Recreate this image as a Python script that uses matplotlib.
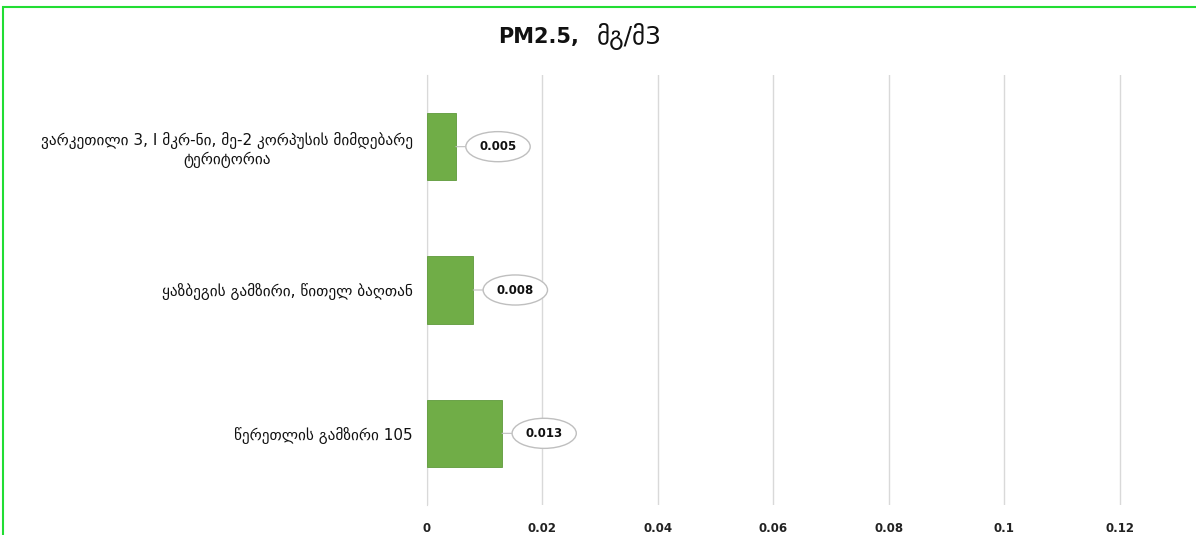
import matplotlib
matplotlib.use('Agg')
import matplotlib.pyplot as plt
from matplotlib.patches import Rectangle

plt.rcParams['font.family'] = ['DejaVu Sans']

# data
locations = ['ვარკეთილი 3, I მკრ-ნი, მე-2 კორპუსის მიმდებარე\nტერიტორია',
             'ყაზბეგის გამზირი, წითელ ბაღთან',
             'წერეთლის გამზირი 105']
pm25 = [0.005, 0.008, 0.013]
value_labels = ['0.005', '0.008', '0.013']
xticks = [0, 0.02, 0.04, 0.06, 0.08, 0.1, 0.12]
xtick_labels = ['0', '0.02', '0.04', '0.06', '0.08', '0.1', '0.12']

fig = plt.figure(figsize=(11.96, 5.35), dpi=100)
ax = fig.add_axes([427/1196, 1 - 505/535, 1 - 427/1196, 430/535])

ypos = list(range(len(locations)))
ax.barh(ypos, pm25, height=0.47, color='#70ad47', edgecolor='#5e9a3a', linewidth=0.6, zorder=3)
ax.set_ylim(len(locations) - 0.5, -0.5)
ax.set_xlim(0, 0.1332)

ax.set_xticks(xticks)
ax.set_xticklabels(xtick_labels, fontsize=8.5, fontweight='bold', color='#222222')
ax.tick_params(axis='x', length=0, pad=12)
ax.set_yticks(ypos)
ax.set_yticklabels(locations, fontsize=11, color='#111111')
ax.tick_params(axis='y', length=0, pad=10)
for lbl in ax.get_yticklabels():
    lbl.set_multialignment('center')

ax.grid(axis='x', color='#d9d9d9', linewidth=1, zorder=0)
for s in ['top', 'right', 'bottom']:
    ax.spines[s].set_visible(False)
ax.spines['left'].set_color('#d9d9d9')

# data labels in ellipses
for y, v, t in zip(ypos, pm25, value_labels):
    ax.annotate(t, xy=(v, y), xytext=(v + 0.0073, y), ha='center', va='center',
                fontsize=8.5, fontweight='bold', color='#111111',
                bbox=dict(boxstyle='ellipse,pad=0.35', fc='white', ec='#bfbfbf', lw=1),
                arrowprops=dict(arrowstyle='-', color='#bfbfbf', lw=0.8,
                                shrinkA=0, shrinkB=0),
                zorder=5)

# title
fig.text(579/1196, 1 - 37/535, 'PM2.5,', ha='right', va='center', fontsize=15, fontweight='bold', color='#111111')
fig.text(597/1196, 1 - 37/535, 'მგ/მ3', ha='left', va='center', fontsize=18, color='#111111')

# green frame (cropped on the right and bottom)
fig.patches.append(Rectangle((3.5/1196, -0.05), 1.1, 1 - 6.5/535 + 0.05, transform=fig.transFigure,
                             fill=False, ec='#22dd33', lw=1.5, zorder=10))

fig.savefig('out.png', dpi=100)
